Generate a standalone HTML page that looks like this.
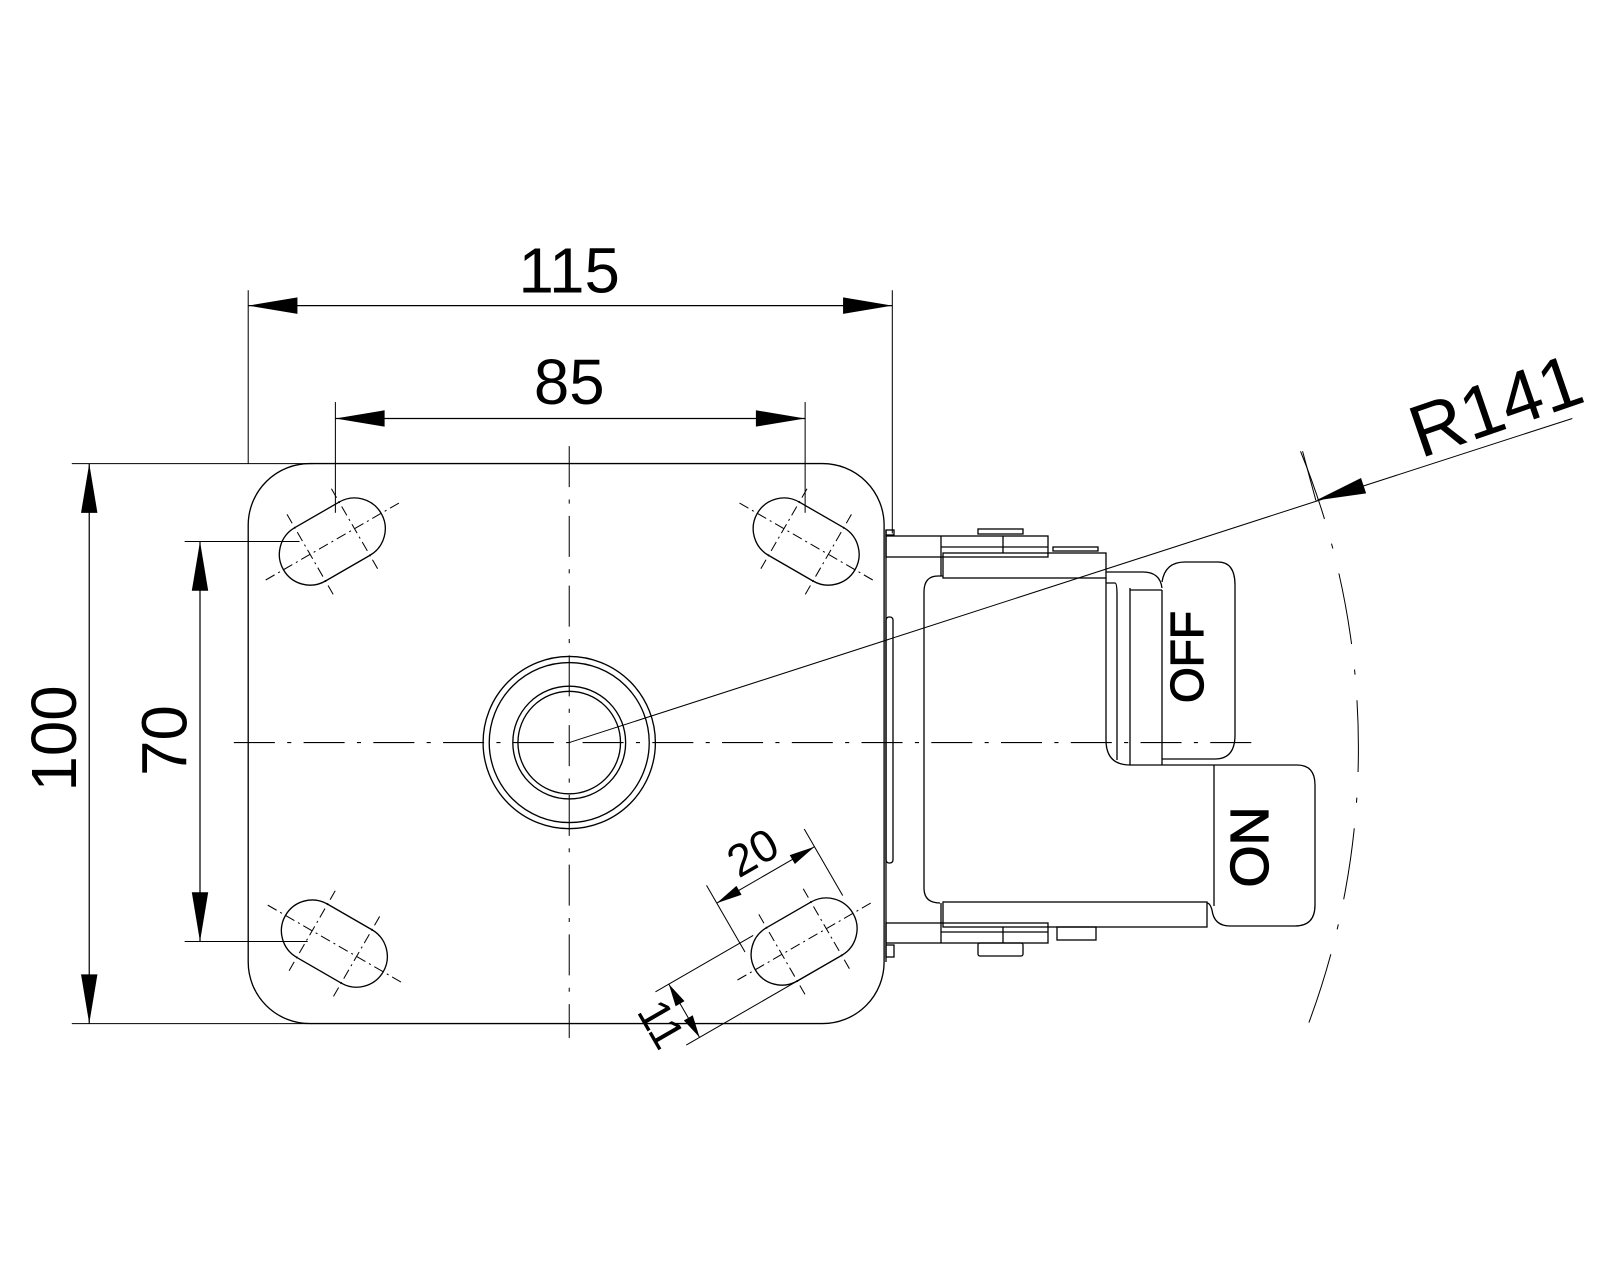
<!DOCTYPE html>
<html><head><meta charset="utf-8"><style>
html,body{margin:0;padding:0;background:#fff;}
svg{display:block;}
text{font-family:"Liberation Sans",sans-serif;fill:#000;}
</style></head><body>
<svg width="1600" height="1280" viewBox="0 0 1560 1248" preserveAspectRatio="none" xmlns="http://www.w3.org/2000/svg">
<defs>
<g id="slot">
  <rect x="-55" y="-30" width="110" height="60" rx="30" fill="none" stroke="#000" stroke-width="1.3"/>
  <line x1="-75" y1="0" x2="75" y2="0" stroke="#000" stroke-width="1" stroke-dasharray="10 4 2 4"/>
  <line x1="-25" y1="-45" x2="-25" y2="45" stroke="#000" stroke-width="1" stroke-dasharray="10 4 2 4"/>
  <line x1="25" y1="-45" x2="25" y2="45" stroke="#000" stroke-width="1" stroke-dasharray="10 4 2 4"/>
</g>
</defs>
<g fill="none" stroke="#000" stroke-width="1.3">
  <rect x="242" y="452" width="620" height="546" rx="60"/>
  <line x1="555" y1="435" x2="555" y2="1012" stroke-width="1" stroke-dasharray="40 12 4 12"/>
  <line x1="228" y1="724" x2="1225" y2="724" stroke-width="1" stroke-dasharray="40 12 4 12"/>
  <circle cx="555" cy="724" r="84"/>
  <circle cx="555" cy="724" r="78"/>
  <circle cx="555" cy="724" r="55"/>
  <circle cx="555" cy="724" r="50"/>
  <line x1="242" y1="283" x2="242" y2="452" stroke-width="1"/>
  <line x1="870" y1="283" x2="870" y2="520" stroke-width="1"/>
  <line x1="242" y1="298" x2="870" y2="298" stroke-width="1.2"/>
  <line x1="327" y1="392" x2="327" y2="500" stroke-width="1"/>
  <line x1="785" y1="392" x2="785" y2="500" stroke-width="1"/>
  <line x1="327" y1="408" x2="785" y2="408" stroke-width="1.2"/>
  <line x1="70" y1="452" x2="305" y2="452" stroke-width="1"/>
  <line x1="70" y1="998" x2="300" y2="998" stroke-width="1"/>
  <line x1="87" y1="452" x2="87" y2="998" stroke-width="1.2"/>
  <line x1="180" y1="528" x2="292" y2="528" stroke-width="1"/>
  <line x1="180" y1="918" x2="300" y2="918" stroke-width="1"/>
  <line x1="195" y1="528" x2="195" y2="918" stroke-width="1.2"/>
  <line x1="555" y1="724" x2="1533" y2="408" stroke-width="1"/>
  <line x1="1270" y1="440" x2="1283" y2="488" stroke-width="1"/>
  <path d="M1268 440 A 768 768 0 0 1 1268 1018" stroke-width="1" stroke-dasharray="70 25 5 25"/>
</g>
<g fill="#000">
  <polygon points="242,298 290,290 290,306"/>
  <polygon points="870,298 822,290 822,306"/>
  <polygon points="327,408 375,400 375,416"/>
  <polygon points="785,408 737,400 737,416"/>
  <polygon points="87,452 79,500 95,500"/>
  <polygon points="87,998 79,950 95,950"/>
  <polygon points="195,528 187,576 203,576"/>
  <polygon points="195,918 187,870 203,870"/>
  <polygon points="1283,488 1327,466 1332,481"/>
</g>
<text x="555" y="285" font-size="62" text-anchor="middle">115</text>
<text x="555" y="394" font-size="62" text-anchor="middle">85</text>
<text transform="translate(74,720) rotate(-90)" font-size="62" text-anchor="middle">100</text>
<text transform="translate(182,722) rotate(-90)" font-size="62" text-anchor="middle">70</text>
<text transform="translate(1385,447) rotate(-19)" font-size="72">R141</text>
<g transform="translate(324,528) rotate(-30)"><use href="#slot"/></g>
<g transform="translate(786,528) rotate(30)"><use href="#slot"/></g>
<g transform="translate(326,920) rotate(30)"><use href="#slot"/></g>
<g transform="translate(784,918) rotate(-30)">
  <use href="#slot"/>
  <g fill="none" stroke="#000" stroke-width="1">
    <line x1="-55" y1="-20" x2="-55" y2="-95"/>
    <line x1="55" y1="-20" x2="55" y2="-95"/>
    <line x1="-55" y1="-75" x2="55" y2="-75"/>
    <line x1="-40" y1="-30" x2="-150" y2="-30"/>
    <line x1="-10" y1="30" x2="-150" y2="30"/>
    <line x1="-135" y1="-30" x2="-135" y2="30"/>
  </g>
  <polygon points="-55,-75 -30,-80 -30,-70" fill="#000"/>
  <polygon points="55,-75 30,-80 30,-70" fill="#000"/>
  <polygon points="-135,-30 -140,-8 -130,-8" fill="#000"/>
  <polygon points="-135,30 -140,8 -130,8" fill="#000"/>
  <text x="0" y="-85" font-size="44" text-anchor="middle">20</text>
  <text transform="translate(-176,0) rotate(90)" font-size="44" text-anchor="middle">11</text>
</g>
<g transform="scale(0.975)" fill="none" stroke="#000" stroke-width="1.3">
  <line x1="886" y1="530" x2="886" y2="962"/>
  <rect x="886" y="530" width="8" height="5"/>
  <rect x="886" y="945" width="8" height="12"/>
  <rect x="886" y="617" width="7" height="246" rx="3"/>
  <rect x="886" y="536" width="162" height="21"/>
  <line x1="941" y1="536" x2="941" y2="576"/>
  <line x1="1003" y1="536" x2="1003" y2="553"/>
  <line x1="941" y1="547" x2="1048" y2="547"/>
  <rect x="978" y="529" width="45" height="5"/>
  <rect x="1053" y="547" width="45" height="4"/>
  <rect x="943" y="553" width="163" height="25"/>
  <path d="M943 576 H938 Q924 576 924 592 V888 Q924 903 940 903"/>
  <path d="M1106 578 V740 Q1106 765 1130 765 H1214"/>
  <path d="M1106 572 H1143 Q1160 572 1162 588"/>
  <path d="M1106 583 H1115 Q1117 583 1117 595 V760"/>
  <path d="M1130 588 V765"/>
  <path d="M1162 590 V765"/>
  <path d="M1130 590 H1162"/>
  <path d="M1162 582 Q1165 562 1185 562 H1218 Q1235 562 1235 585 V735 Q1235 759 1215 759 H1162"/>
  <text transform="translate(1203,657) rotate(-90)" font-size="46" text-anchor="middle" fill="#fff" stroke="#000" stroke-width="1.2">OFF</text>
  <path d="M1214 765 V906"/>
  <path d="M1214 765 H1297 Q1315 765 1315 785 V905 Q1315 926 1295 926 H1230 Q1214 926 1212 910 Q1210 903 1207 903"/>
  <text transform="translate(1268,847) rotate(-90)" font-size="54" text-anchor="middle" fill="#fff" stroke="#000" stroke-width="1.2">ON</text>
  <rect x="943" y="902" width="264" height="25"/>
  <rect x="886" y="923" width="162" height="20"/>
  <line x1="941" y1="903" x2="941" y2="943"/>
  <line x1="1003" y1="927" x2="1003" y2="943"/>
  <line x1="941" y1="932" x2="1048" y2="932"/>
  <rect x="978" y="943" width="45" height="13" rx="2"/>
  <rect x="1057" y="927" width="39" height="13"/>
</g>
</svg>
</body></html>
